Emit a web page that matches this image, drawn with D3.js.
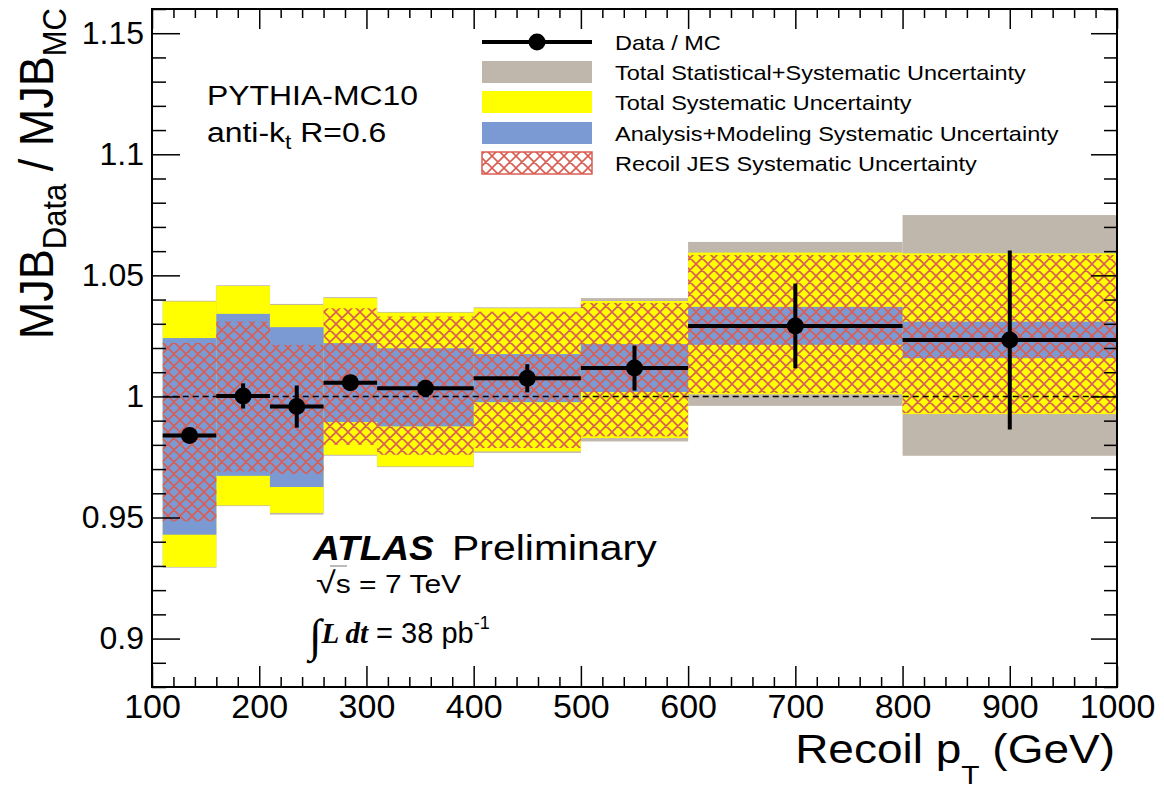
<!DOCTYPE html>
<html>
<head>
<meta charset="utf-8">
<script src="https://cdn.jsdelivr.net/npm/d3@7"></script>
<style>
body { margin: 0; background: #fff; }
svg { display: block; font-family: "Liberation Sans", Arial, Helvetica, sans-serif; }
</style>
</head>
<body>
<div id="chart"></div>
<script>
// recoil pT bins (GeV)
const binLo = [110, 160, 210, 260, 310, 400, 500, 600, 800];
const binHi = [160, 210, 260, 310, 400, 500, 600, 800, 1000];
const ptCenter = [135, 185, 235, 285, 355, 450, 550, 700, 900];

// MJB data / MC ratio and statistical error
const ratio = [0.9839, 1.0002, 0.9958, 1.0057, 1.0034, 1.0075, 1.0117, 1.0291, 1.0233];
const statErr = [0.0015, 0.0052, 0.0087, 0.002, 0.002, 0.0058, 0.0093, 0.0175, 0.037];

// uncertainty bands (lower / upper edges)
const totalLo = [0.9293, 0.9547, 0.9512, 0.9755, 0.9708, 0.9767, 0.9814, 0.9961, 0.9755];
const totalHi = [1.0395, 1.0459, 1.0382, 1.0410, 1.0349, 1.0368, 1.0406, 1.0638, 1.0749];
const systLo = [0.9296, 0.9550, 0.9519, 0.9759, 0.9711, 0.9773, 0.9828, 1.0009, 0.9927];
const systHi = [1.0392, 1.0456, 1.0378, 1.0406, 1.0346, 1.0364, 1.0394, 1.0594, 1.0591];
const anaLo = [0.9429, 0.9672, 0.9626, 0.9894, 0.9876, 0.9976, 1.0018, 1.0213, 1.0158];
const anaHi = [1.0241, 1.0341, 1.0286, 1.0220, 1.0199, 1.0175, 1.0216, 1.0370, 1.0309];
const jesLo = [0.9484, 0.9690, 0.9680, 0.9800, 0.9759, 0.9787, 0.9835, 1.0014, 0.9931];
const jesHi = [1.0221, 1.0309, 1.0213, 1.0364, 1.0330, 1.0350, 1.0386, 1.0584, 1.0584];

// axis ticks
const xTicks = [100, 200, 300, 400, 500, 600, 700, 800, 900, 1000];
const yTicks = [0.9, 0.95, 1, 1.05, 1.1, 1.15];
const yTickLabels = ['0.9', '0.95', '1', '1.05', '1.1', '1.15'];

const legendLabels = [
    'Data / MC',
    'Total Statistical+Systematic Uncertainty',
    'Total Systematic Uncertainty',
    'Analysis+Modeling Systematic Uncertainty',
    'Recoil JES Systematic Uncertainty'
];

const width = 1164, height = 794;
const margin = { top: 9, right: 47, bottom: 107, left: 152 };
const colors = { total: '#bfb6ac', syst: '#ffff00', ana: '#7b9ad3', jes: '#d95d52' };

const svg = d3.select('#chart').append('svg')
    .attr('width', width)
    .attr('height', height);

const defs = svg.append('defs');
defs.append('pattern')
    .attr('id', 'jesHatch')
    .attr('patternUnits', 'userSpaceOnUse')
    .attr('width', 12).attr('height', 12)
    .append('path')
    .attr('d', 'M0,0L12,12M12,0L0,12M-1,11L1,13M11,-1L13,1M-1,1L1,-1M11,13L13,11')
    .attr('stroke', colors.jes)
    .attr('stroke-width', 1.6);

const x = d3.scaleLinear().domain([100, 1000]).range([margin.left, width - margin.right]);
const y = d3.scaleLinear().domain([0.88, 1.16]).range([height - margin.bottom, margin.top]);

const idx = d3.range(binLo.length);

function band(lo, hi, fill) {
    svg.append('g').selectAll('rect')
        .data(idx)
        .join('rect')
        .attr('x', i => x(binLo[i]))
        .attr('width', i => x(binHi[i]) - x(binLo[i]))
        .attr('y', i => y(hi[i]))
        .attr('height', i => y(lo[i]) - y(hi[i]))
        .attr('fill', fill);
}

band(totalLo, totalHi, colors.total);
band(systLo, systHi, colors.syst);
band(anaLo, anaHi, colors.ana);
band(jesLo, jesHi, 'url(#jesHatch)');

// reference line at 1
svg.append('line')
    .attr('x1', x(binLo[0])).attr('x2', x(binHi[binHi.length - 1]))
    .attr('y1', y(1)).attr('y2', y(1))
    .attr('stroke', '#000')
    .attr('stroke-width', 1.4)
    .attr('stroke-dasharray', '6,4');

// data points
const pts = svg.append('g');
pts.selectAll('.hbar')
    .data(idx)
    .join('line')
    .attr('x1', i => x(binLo[i])).attr('x2', i => x(binHi[i]))
    .attr('y1', i => y(ratio[i])).attr('y2', i => y(ratio[i]))
    .attr('stroke', '#000').attr('stroke-width', 4);
pts.selectAll('.vbar')
    .data(idx)
    .join('line')
    .attr('x1', i => x(ptCenter[i])).attr('x2', i => x(ptCenter[i]))
    .attr('y1', i => y(ratio[i] - statErr[i])).attr('y2', i => y(ratio[i] + statErr[i]))
    .attr('stroke', '#000').attr('stroke-width', 4);
pts.selectAll('circle')
    .data(idx)
    .join('circle')
    .attr('cx', i => x(ptCenter[i]))
    .attr('cy', i => y(ratio[i]))
    .attr('r', 8.5)
    .attr('fill', '#000');

// frame + axes, ticks inside like ROOT
const x0 = margin.left, x1 = width - margin.right;
const y0 = margin.top, y1 = height - margin.bottom;

const yMinor = d3.range(88, 117).filter(v => v % 5 !== 0).map(v => v / 100);
const xMinor = d3.range(100, 1001, 20).filter(v => v % 100 !== 0);

function styleAxis(g) {
    g.select('.domain').remove();
    g.selectAll('line').attr('stroke', '#000').attr('stroke-width', 1.5);
}

svg.append('g').attr('transform', `translate(${x0},0)`)
    .call(d3.axisLeft(y).tickValues(yTicks).tickSize(-28).tickPadding(8)
        .tickFormat((d, i) => yTickLabels[i]))
    .call(styleAxis)
    .selectAll('text')
    .attr('font-size', 32)
    .attr('fill', '#000');
svg.append('g').attr('transform', `translate(${x0},0)`)
    .call(d3.axisLeft(y).tickValues(yMinor).tickSize(-14).tickFormat(''))
    .call(styleAxis);
svg.append('g').attr('transform', `translate(${x1},0)`)
    .call(d3.axisRight(y).tickValues(yTicks).tickSize(-26).tickFormat(''))
    .call(styleAxis);
svg.append('g').attr('transform', `translate(${x1},0)`)
    .call(d3.axisRight(y).tickValues(yMinor).tickSize(-13).tickFormat(''))
    .call(styleAxis);

svg.append('g').attr('transform', `translate(0,${y1})`)
    .call(d3.axisBottom(x).tickValues(xTicks).tickSize(-21).tickPadding(7).tickFormat(d3.format('d')))
    .call(styleAxis)
    .selectAll('text')
    .attr('font-size', 34)
    .attr('fill', '#000');
svg.append('g').attr('transform', `translate(0,${y1})`)
    .call(d3.axisBottom(x).tickValues(xMinor).tickSize(-10).tickFormat(''))
    .call(styleAxis);
svg.append('g').attr('transform', `translate(0,${y0})`)
    .call(d3.axisTop(x).tickValues(xTicks).tickSize(-20).tickFormat(''))
    .call(styleAxis);
svg.append('g').attr('transform', `translate(0,${y0})`)
    .call(d3.axisTop(x).tickValues(xMinor).tickSize(-9).tickFormat(''))
    .call(styleAxis);

svg.append('rect')
    .attr('x', x0).attr('y', y0)
    .attr('width', x1 - x0).attr('height', y1 - y0)
    .attr('fill', 'none')
    .attr('stroke', '#000')
    .attr('stroke-width', 2);

// text helper: horizontally stretched text at (px, py)
function txt(px, py, size, anchor, stretch) {
    return svg.append('text')
        .attr('transform', `translate(${px},${py}) scale(${stretch},1)`)
        .attr('font-size', size)
        .attr('text-anchor', anchor || 'start')
        .attr('fill', '#000');
}
// parts: [text, fontSize, dy]
function rich(t, parts) {
    parts.forEach(([s, size, dy]) => {
        const ts = t.append('tspan').text(s);
        if (size) ts.attr('font-size', size);
        if (dy) ts.attr('dy', dy);
    });
    return t;
}

// axis titles
rich(txt(1115, 763, 40, 'end', 1.15), [
    ['Recoil p'], ['T', 26, 21], [' (GeV)', 40, -21]
]);

const yt = svg.append('text')
    .attr('transform', `translate(53,8) scale(1.08,1) rotate(-90)`)
    .attr('font-size', 45)
    .attr('text-anchor', 'end')
    .attr('fill', '#000');
rich(yt, [['MJB'], ['Data', 31, 12], [' / MJB', 45, -12], ['MC', 31, 12]]);

// legend
const lx0 = 482, lx1 = 592, ltx = 615;
const rowY = [42, 72, 102, 133, 163];
svg.append('line')
    .attr('x1', lx0).attr('x2', lx1).attr('y1', rowY[0]).attr('y2', rowY[0])
    .attr('stroke', '#000').attr('stroke-width', 4);
svg.append('circle')
    .attr('cx', (lx0 + lx1) / 2).attr('cy', rowY[0]).attr('r', 8.5).attr('fill', '#000');
const boxFill = [colors.total, colors.syst, colors.ana, 'url(#jesHatch)'];
boxFill.forEach((f, i) => {
    svg.append('rect')
        .attr('x', lx0).attr('y', rowY[i + 1] - 11)
        .attr('width', lx1 - lx0).attr('height', 22)
        .attr('fill', f)
        .attr('stroke', i === 3 ? colors.jes : 'none')
        .attr('stroke-width', 1.5);
});
legendLabels.forEach((s, i) => {
    txt(ltx, rowY[i] + 8, 21, 'start', 1.12).text(s);
});

// labels in the plot
txt(207, 105, 28, 'start', 1.14).text('PYTHIA-MC10');
rich(txt(207, 142, 28, 'start', 1.14), [['anti-k'], ['t', 20, 7], [' R=0.6', 28, -7]]);

txt(313, 560, 35, 'start', 1.06)
    .attr('font-weight', 'bold').attr('font-style', 'italic').text('ATLAS');
txt(452, 560, 35, 'start', 1.17).text('Preliminary');

rich(txt(316, 593, 25, 'start', 1.2), [['\u221A', 30], ['s = 7 TeV', 25]]);
svg.append('line')
    .attr('x1', 330).attr('x2', 347).attr('y1', 566).attr('y2', 566)
    .attr('stroke', '#777').attr('stroke-width', 1);

const lum = svg.append('text')
    .attr('transform', 'translate(309,643)')
    .attr('fill', '#000');
rich(lum, [['\u222B', 46, 8], ['L dt', 29, -8], [' = 38 pb', 29], ['-1', 18, -14]]);
lum.selectAll('tspan').filter((d, i) => i < 2)
    .attr('font-family', '"Liberation Serif", serif');
lum.selectAll('tspan').filter((d, i) => i === 1)
    .attr('font-weight', 'bold').attr('font-style', 'italic');
</script>
</body>
</html>
